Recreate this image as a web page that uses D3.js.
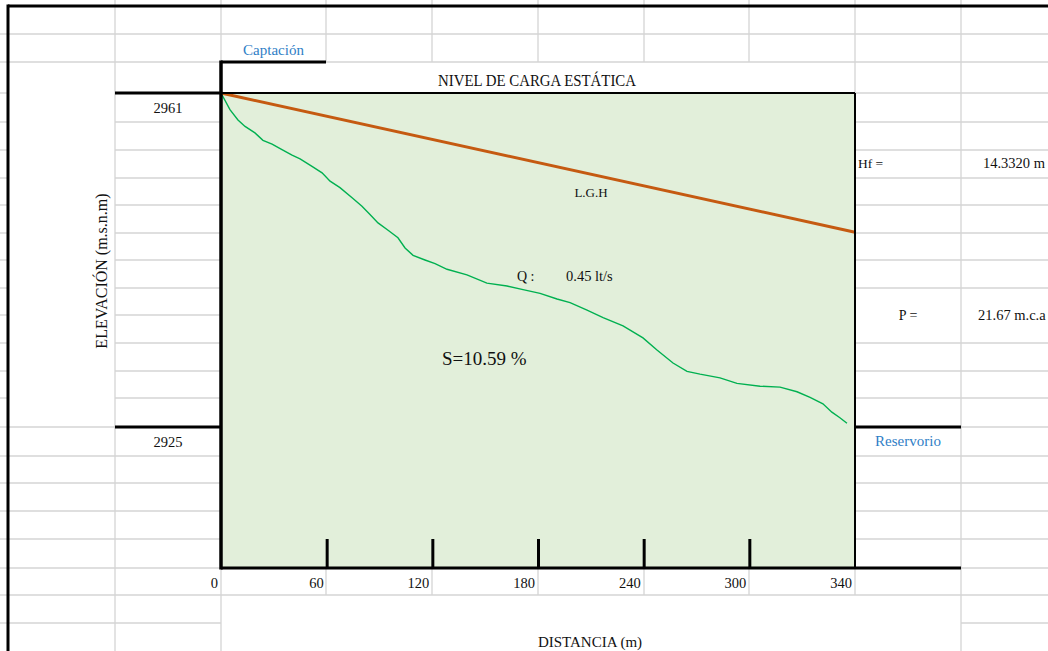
<!DOCTYPE html>
<html>
<head>
<meta charset="utf-8">
<script src="https://cdn.jsdelivr.net/npm/d3@7"></script>
<style>
  body { margin: 0; background: #fff; }
  svg { display: block; font-family: "Liberation Serif", "Times New Roman", serif; }
</style>
</head>
<body>
<svg id="chart" width="1048" height="651"></svg>
<script>
// --- data ---
const tickLabels = ['0', '60', '120', '180', '240', '300', '340']
const elevLabels = [2961, 2925]
// ground profile (distance m, elevation m.s.n.m)
const profileDist = [0, 4.8, 9.1, 12.9, 18.2, 22.5, 27.4, 32.7, 38.1, 42.4, 48.8, 54.2, 58.5,
  63.8, 70.3, 75.6, 79.9, 84.2, 89.6, 94.9, 98.7, 103.0, 109.4, 114.8, 121.2, 131.9, 142.6,
  153.4, 162.0, 171.1, 180.2, 187.2, 196.3, 204.9, 215.6, 226.3, 233.8, 242.4, 249.9, 256.9,
  267.6, 276.7, 289.1, 299.8, 308.9, 315.9, 322.8, 327.6, 331.9, 335.7]
const profileElev = [2961.0, 2959.2, 2958.1, 2957.4, 2956.7, 2955.9, 2955.5, 2954.9, 2954.3,
  2953.9, 2953.1, 2952.4, 2951.5, 2950.8, 2949.7, 2948.8, 2947.9, 2947.0, 2946.2, 2945.4,
  2944.3, 2943.5, 2943.0, 2942.6, 2942.0, 2941.4, 2940.5, 2940.2, 2939.8, 2939.4, 2938.8,
  2938.4, 2937.6, 2936.8, 2935.9, 2934.6, 2933.3, 2931.9, 2931.0, 2930.7, 2930.3, 2929.7,
  2929.4, 2929.3, 2928.8, 2928.2, 2927.5, 2926.6, 2926.0, 2925.4]
// hydraulic grade line (L.G.H)
const lghDist = [0, 340]
const lghElev = [2961, 2946.0]

// --- sheet layout (cell edges) ---
const cols = [8, 115, 221, 326, 432, 538, 644, 749, 855, 961, 1048]
const rows = [6, 34, 62, 93, 122, 150, 178, 205, 233, 260, 288, 315, 343, 371, 398, 427,
  456, 483, 511, 539, 568, 595, 623, 651]

const svg = d3.select('#chart')
const gridCol = '#d4d4d4'
const blue = '#2f7ec6'

svg.append('rect').attr('width', 1048).attr('height', 651).attr('fill', '#fff')

// plot area fill
svg.append('rect')
  .attr('x', cols[2]).attr('y', rows[3])
  .attr('width', cols[8] - cols[2]).attr('height', rows[20] - rows[3])
  .attr('fill', '#e2efda')

let grid = svg.append('g').attr('stroke', gridCol).attr('stroke-width', 1.3)
function hline(y, x1, x2) { grid.append('line').attr('x1', x1).attr('x2', x2).attr('y1', y).attr('y2', y) }
function vline(x, y1, y2) { grid.append('line').attr('x1', x).attr('x2', x).attr('y1', y1).attr('y2', y2) }

for (let i = 1; i <= 22; i++) {
  let y = rows[i]
  hline(y, 0, cols[0])                                  // strip left of border
  if (i <= 2 || i >= 15) hline(y, cols[0], cols[1])      // ELEVACIÓN cell is merged
  hline(y, cols[1], cols[2])
  if (i <= 2 || i == 21) hline(y, cols[2], cols[8])
  if (i != 11 && i != 22) hline(y, cols[8], cols[9])     // P = cell is merged
  if (i != 11) hline(y, cols[9], 1048)
}
vline(cols[1], 0, 651)
vline(cols[9], 0, 651)
vline(cols[2], 0, rows[2])
vline(cols[2], rows[20], 651)
for (let c = 3; c <= 7; c++) {
  vline(cols[c], 0, rows[2])
  vline(cols[c], rows[20], rows[21])
}
vline(cols[8], 0, rows[3])
vline(cols[8], rows[20], rows[21])

// --- scales ---
const x = d3.scaleLinear().domain([0, 340]).range([cols[2], cols[8]])
const y = d3.scaleLinear().domain([2925, 2961]).range([rows[15], rows[3]])
const xTick = d3.scalePoint().domain(tickLabels).range([cols[2], cols[8]])

// --- lines ---
const line = d3.line().x(d => x(d[0])).y(d => y(d[1]))
svg.append('path')
  .datum(profileDist.map((d, i) => [d, profileElev[i]]))
  .attr('d', line).attr('fill', 'none')
  .attr('stroke', '#00b050').attr('stroke-width', 1.4)
svg.append('path')
  .datum(lghDist.map((d, i) => [d, lghElev[i]]))
  .attr('d', line).attr('fill', 'none')
  .attr('stroke', '#c55a11').attr('stroke-width', 3)

// --- black borders ---
let bk = svg.append('g').attr('stroke', '#000')
function bline(x1, y1, x2, y2, w) {
  bk.append('line').attr('x1', x1).attr('y1', y1).attr('x2', x2).attr('y2', y2).attr('stroke-width', w)
}
bline(cols[0], rows[0], 1048, rows[0], 3)
bline(cols[0], rows[0] - 1.5, cols[0], 651, 3)
bline(cols[2], rows[2] - 1.5, cols[2], rows[20] + 1.5, 3.5)
bline(cols[2], rows[2], cols[3], rows[2], 3)
bline(cols[1], y(elevLabels[0]), cols[2], y(elevLabels[0]), 3)
bline(cols[2], y(elevLabels[0]), cols[8], y(elevLabels[0]), 2)
bline(cols[1], y(elevLabels[1]), cols[2], y(elevLabels[1]), 3)
bline(cols[8], y(elevLabels[1]), cols[9], y(elevLabels[1]), 3)
bline(cols[8], rows[3], cols[8], rows[20], 2)
bline(cols[2], rows[20], cols[9], rows[20], 3)

// ticks on the distance axis
const axis = d3.axisBottom(xTick)
  .tickValues(tickLabels.slice(1, -1))
  .tickSizeInner(-(rows[20] - rows[19])).tickSizeOuter(0).tickFormat('')
const ax = svg.append('g').attr('transform', `translate(0,${rows[20]})`).call(axis)
ax.select('.domain').remove()
ax.selectAll('.tick line').attr('stroke', '#000').attr('stroke-width', 3)

// tick labels, right-aligned in their cells
svg.append('g').selectAll('text').data(tickLabels).join('text')
  .attr('x', d => xTick(d) - 3).attr('y', rows[20] + 20)
  .attr('text-anchor', 'end').attr('font-size', 14.5).attr('fill', '#111')
  .text(d => d)

// elevation labels
svg.append('g').selectAll('text').data(elevLabels).join('text')
  .attr('x', (cols[1] + cols[2]) / 2).attr('y', d => y(d) + 20)
  .attr('text-anchor', 'middle').attr('font-size', 14.5).attr('fill', '#111')
  .text(d => d)

function txt(s, tx, ty, size, anchor, color, len) {
  let t = svg.append('text').attr('x', tx).attr('y', ty)
    .attr('font-size', size).attr('text-anchor', anchor || 'start')
    .attr('fill', color || '#111').text(s)
  if (len) t.attr('textLength', len).attr('lengthAdjust', 'spacingAndGlyphs')
  return t
}

txt('Captación', (cols[2] + cols[3]) / 2, 55, 15, 'middle', blue)
txt('NIVEL DE CARGA ESTÁTICA', 537, 86, 16, 'middle', '#111', 198)
txt('Reservorio', (cols[8] + cols[9]) / 2, 446, 15, 'middle', blue)
txt('Hf =', cols[8] + 3, 168, 13.5)
txt('14.3320 m', 1045, 168, 14.5, 'end')
txt('P =', (cols[8] + cols[9]) / 2, 320, 14, 'middle')
txt('21.67 m.c.a', 978, 320, 14.5)
txt('L.G.H', 591, 197, 13, 'middle')
txt('Q :', 517, 281, 14)
txt('0.45 lt/s', 566, 281, 14.5)
txt('S=10.59 %', 442, 365, 19)
txt('DISTANCIA (m)', 590, 647, 15, 'middle')
txt('ELEVACIÓN (m.s.n.m)', 0, 0, 16, 'middle')
  .attr('transform', 'translate(107,271) rotate(-90)')
</script>
</body>
</html>
